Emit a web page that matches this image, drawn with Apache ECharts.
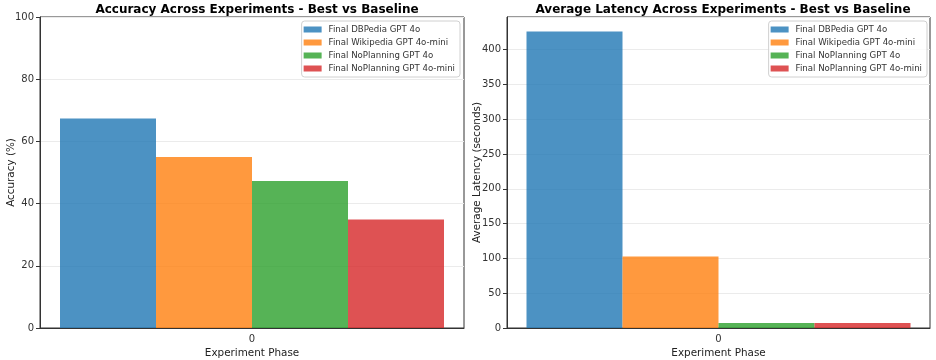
<!DOCTYPE html>
<html>
<head>
<meta charset="utf-8">
<script src="https://cdn.jsdelivr.net/npm/echarts@6/dist/echarts.min.js"></script>
<style>
  html, body { margin: 0; padding: 0; background: #fff; }
  #chart { width: 936px; height: 360px; }
</style>
</head>
<body>
<div id="chart"></div>
<script>
const categories = ["0"];
const seriesNames = [
  "Final DBPedia GPT 4o",
  "Final Wikipedia GPT 4o-mini",
  "Final NoPlanning GPT 4o",
  "Final NoPlanning GPT 4o-mini"
];
const accuracy = [67.4, 55.0, 47.3, 34.9];
const latency = [426.3, 102.6, 7.2, 7.3];
const colors = ["#1f77b4", "#ff7f0e", "#2ca02c", "#d62728"];

const font = "DejaVu Sans";
const chart = echarts.init(document.getElementById("chart"));

function xAxis(gridIndex) {
  return {
    type: "category",
    gridIndex,
    data: categories,
    name: "Experiment Phase",
    nameLocation: "middle",
    nameGap: 20,
    nameMoveOverlap: false,
    nameTextStyle: { fontFamily: font, fontSize: 10.4, color: "#222" },
    axisLine: { lineStyle: { color: "#333" } },
    axisTick: { alignWithLabel: true, length: 4, lineStyle: { color: "#333" } },
    axisLabel: { fontFamily: font, fontSize: 10, color: "#333", margin: 6 },
    splitLine: { show: false }
  };
}

function yAxis(gridIndex, name, max, interval, gap) {
  return {
    type: "value",
    gridIndex,
    min: 0,
    max,
    interval,
    name,
    nameLocation: "middle",
    nameGap: gap,
    nameMoveOverlap: false,
    nameTextStyle: { fontFamily: font, fontSize: 10.4, color: "#222" },
    axisLine: { show: true, lineStyle: { color: "#333" } },
    axisTick: { show: true, length: 4, lineStyle: { color: "#333" } },
    axisLabel: { fontFamily: font, fontSize: 10, color: "#333", margin: 6, showMaxLabel: max % interval === 0 },
    splitLine: { show: true, lineStyle: { color: "#ebebeb", width: 1 } }
  };
}

function bars(values, axisIndex) {
  return values.map((v, i) => ({
    name: seriesNames[i],
    type: "bar",
    xAxisIndex: axisIndex,
    yAxisIndex: axisIndex,
    data: [v],
    barWidth: 96,
    barGap: "0%",
    itemStyle: { color: colors[i], opacity: 0.8 },
    emphasis: { disabled: true }
  }));
}

function legend(right) {
  return {
    data: seriesNames,
    orient: "vertical",
    right,
    top: 21,
    itemWidth: 18,
    itemHeight: 6,
    itemGap: 4,
    padding: [4, 5, 4, 2],
    borderColor: "#d0d0d0",
    borderWidth: 1,
    borderRadius: 3,
    backgroundColor: "rgba(255,255,255,0.8)",
    icon: "rect",
    textStyle: { fontFamily: font, fontSize: 8.6, color: "#333", padding: [0, 0, 0, 2] }
  };
}

chart.setOption({
  animation: false,
  title: [
    { text: "Accuracy Across Experiments - Best vs Baseline", left: 252, top: -1, textAlign: "center",
      textStyle: { fontFamily: font, fontSize: 12, fontWeight: "bold", color: "#000" } },
    { text: "Average Latency Across Experiments - Best vs Baseline", left: 718, top: -1, textAlign: "center",
      textStyle: { fontFamily: font, fontSize: 12, fontWeight: "bold", color: "#000" } }
  ],
  legend: [legend(936 - 460), legend(936 - 927)],
  grid: [
    { left: 40, right: 936 - 464, top: 17, bottom: 32, outerBoundsMode: "none", containLabel: false,
      show: true, borderColor: "#333", borderWidth: 1 },
    { left: 507, right: 6, top: 17, bottom: 32, outerBoundsMode: "none", containLabel: false,
      show: true, borderColor: "#333", borderWidth: 1 }
  ],
  xAxis: [xAxis(0), xAxis(1)],
  yAxis: [
    yAxis(0, "Accuracy (%)", 100, 20, 24),
    yAxis(1, "Average Latency (seconds)", 447, 50, 25)
  ],
  series: [...bars(accuracy, 0), ...bars(latency, 1)]
});
</script>
</body>
</html>
